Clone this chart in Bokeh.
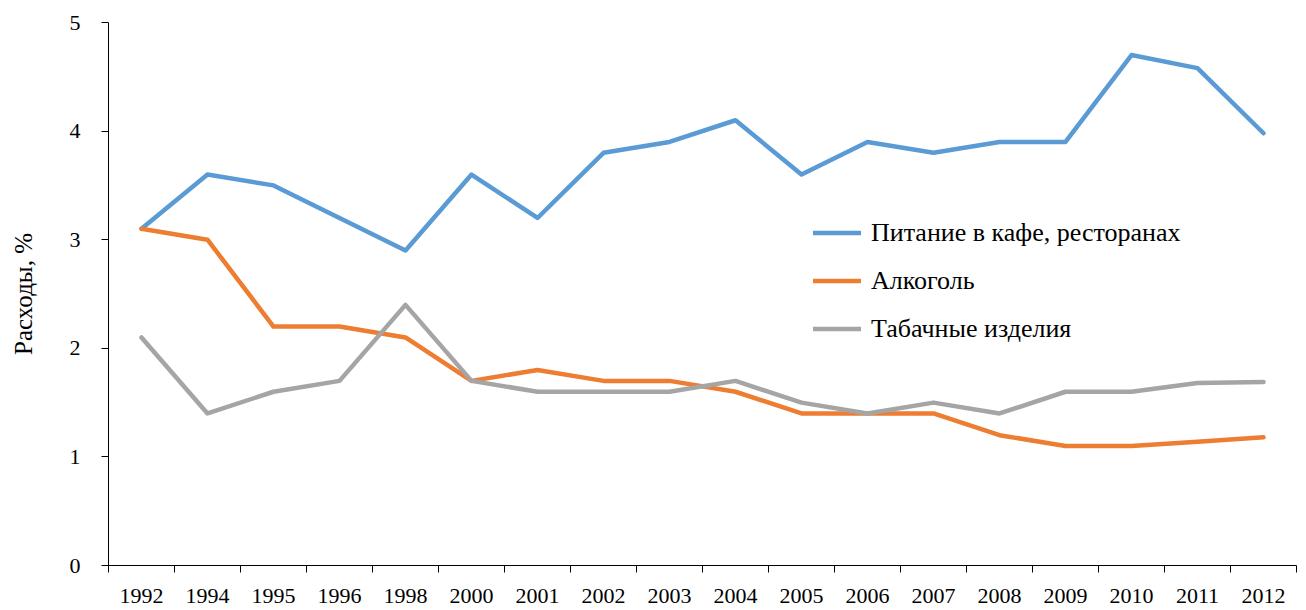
import numpy as np
from bokeh.plotting import figure
from bokeh.models import Range1d, FixedTicker, Legend, LegendItem
from bokeh.embed import file_html
from bokeh.resources import INLINE

years = ["1992", "1994", "1995", "1996", "1998", "2000", "2001", "2002", "2003",
         "2004", "2005", "2006", "2007", "2008", "2009", "2010", "2011", "2012"]
cafe = [3.1, 3.6, 3.5, 3.2, 2.9, 3.6, 3.2, 3.8, 3.9, 4.1, 3.6, 3.9, 3.8, 3.9, 3.9, 4.7, 4.58, 3.98]
alcohol = [3.1, 3.0, 2.2, 2.2, 2.1, 1.7, 1.8, 1.7, 1.7, 1.6, 1.4, 1.4, 1.4, 1.2, 1.1, 1.1, 1.14, 1.18]
tobacco = [2.1, 1.4, 1.6, 1.7, 2.4, 1.7, 1.6, 1.6, 1.6, 1.7, 1.5, 1.4, 1.5, 1.4, 1.6, 1.6, 1.68, 1.69]
names = ["Питание в кафе, ресторанах", "Алкоголь", "Табачные изделия"]
colors = ["#5B9BD5", "#ED7D31", "#A5A5A5"]
y_ticks = [0, 1, 2, 3, 4, 5]

FONT = "Liberation Serif"

n = len(years)
xs = [i + 0.5 for i in range(n)]

p = figure(width=1306, height=610, output_backend="svg", toolbar_location=None,
           x_range=Range1d(0, n), y_range=Range1d(0, 5))
p.min_border_left = 108
p.min_border_right = 10
p.min_border_top = 22
p.min_border_bottom = 45
p.outline_line_color = None
p.xgrid.visible = False
p.ygrid.visible = False
p.background_fill_color = "white"

renderers = []
for vals, c in zip([cafe, alcohol, tobacco], colors):
    r = p.line(xs, vals, line_color=c, line_width=4.5, line_join="round", line_cap="round")
    renderers.append(r)

xa = p.xaxis[0]
xa.ticker = FixedTicker(ticks=xs, minor_ticks=list(range(n + 1)))
xa.major_label_overrides = {x: y for x, y in zip(xs, years)}
xa.major_tick_line_color = None
xa.major_tick_out = 7
xa.major_tick_in = 0
xa.minor_tick_out = 7
xa.minor_tick_in = 0
xa.minor_tick_line_color = "black"
xa.axis_line_color = "black"
xa.major_label_text_font = FONT
xa.major_label_text_font_size = "22px"
xa.major_label_text_color = "black"
xa.major_label_standoff = 16

ya = p.yaxis[0]
ya.ticker = FixedTicker(ticks=y_ticks)
ya.major_tick_out = 7
ya.major_tick_in = 0
ya.minor_tick_line_color = None
ya.axis_line_color = "black"
ya.major_tick_line_color = "black"
ya.major_label_text_font = FONT
ya.major_label_text_font_size = "22px"
ya.major_label_text_color = "black"
ya.major_label_standoff = 21
ya.axis_label = "Расходы, %"
ya.axis_label_text_font = FONT
ya.axis_label_text_font_size = "25px"
ya.axis_label_text_font_style = "normal"
ya.axis_label_text_color = "black"
ya.axis_label_standoff = 30

legend = Legend(items=[LegendItem(label=nm, renderers=[r]) for nm, r in zip(names, renderers)],
                location=(705, 221), orientation="vertical")
legend.border_line_color = None
legend.background_fill_alpha = 0
legend.padding = 0
legend.margin = 0
legend.spacing = 17
legend.glyph_width = 48
legend.glyph_height = 31
legend.label_height = 31
legend.label_standoff = 10
legend.label_text_font = FONT
legend.label_text_font_size = "26px"
legend.label_text_color = "black"
p.add_layout(legend)

open("out.html", "w").write(file_html(p, INLINE))
